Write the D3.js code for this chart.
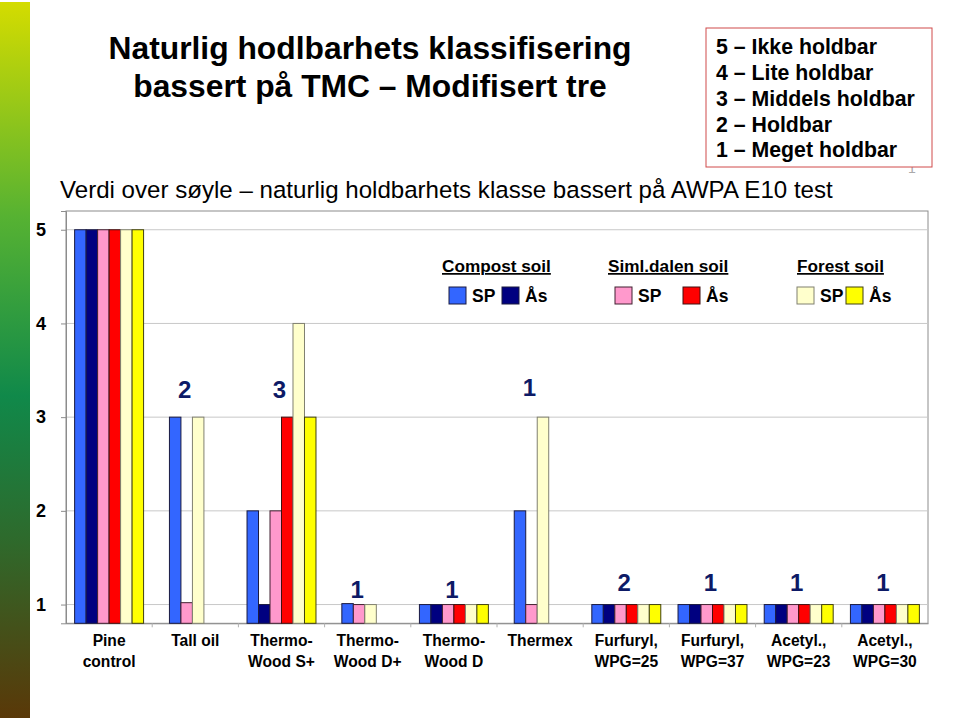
<!DOCTYPE html>
<html><head><meta charset="utf-8">
<script src="https://cdn.jsdelivr.net/npm/d3@7"></script>
<style>body{margin:0;background:#fff;} svg{display:block;font-family:Arial,"Liberation Sans",sans-serif;}</style>
</head><body>
<svg id="c" width="960" height="722"></svg>
<script>
const categories = ["Pine\ncontrol","Tall oil","Thermo-\nWood S+","Thermo-\nWood D+","Thermo-\nWood D","Thermex","Furfuryl,\nWPG=25","Furfuryl,\nWPG=37","Acetyl.,\nWPG=23","Acetyl.,\nWPG=30"];
const seriesKeys = ["compostSP","compostAs","simlSP","simlAs","forestSP","forestAs"];
const compostSP = [5, 3,    2, 1.01, 1, 2,    1, 1, 1, 1];
const compostAs = [5, null, 1, null, 1, null, 1, 1, 1, 1];
const simlSP    = [5, 1.02, 2, 1,    1, 1,    1, 1, 1, 1];
const simlAs    = [5, null, 3, null, 1, null, 1, 1, 1, 1];
const forestSP  = [5, 3,    4, 1,    1, 3,    1, 1, 1, 1];
const forestAs  = [5, null, 3, null, 1, null, 1, 1, 1, 1];
const classLabels = ["", "2", "3", "1", "1", "1", "2", "1", "1", "1"];
const classLabelLevel = [null, 3.29, 3.29, 1.16, 1.16, 3.32, 1.23, 1.23, 1.23, 1.23];
const yTicks = [1, 2, 3, 4, 5];
const groups = [{name:"Compost soil", keys:["compostSP","compostAs"]},{name:"Siml.dalen soil", keys:["simlSP","simlAs"]},{name:"Forest soil", keys:["forestSP","forestAs"]}];
const seriesLabels = {compostSP:"SP",compostAs:"Ås",simlSP:"SP",simlAs:"Ås",forestSP:"SP",forestAs:"Ås"};
const classText = ["5 – Ikke holdbar","4 – Lite holdbar","3 – Middels holdbar","2 – Holdbar","1 – Meget holdbar"];

const seriesData = {compostSP, compostAs, simlSP, simlAs, forestSP, forestAs};
const colors = {compostSP:"#3366ff",compostAs:"#000080",simlSP:"#ff99cc",simlAs:"#ff0000",forestSP:"#ffffcc",forestAs:"#ffff00"};
const strokes = {compostSP:"#1a1a40",compostAs:"#1a1a40",simlSP:"#402030",simlAs:"#401010",forestSP:"#808070",forestAs:"#404010"};

const svg = d3.select("#c");

const defs = svg.append("defs");
const lg = defs.append("linearGradient").attr("id","gb").attr("x1",0).attr("x2",0).attr("y1",0).attr("y2",1);
[[0,"#d4dc00"],[0.3,"#56b232"],[0.55,"#10894a"],[0.75,"#2e6a2c"],[1,"#5a3808"]].forEach(s=>lg.append("stop").attr("offset",s[0]).attr("stop-color",s[1]));
svg.append("rect").attr("x",0).attr("y",2).attr("width",30).attr("height",716).attr("fill","url(#gb)");

svg.append("text").attr("x",370).attr("y",48).attr("dy","0.35em").attr("text-anchor","middle").attr("font-size",31.8).attr("font-weight","bold").attr("fill","#000").text("Naturlig hodlbarhets klassifisering");
svg.append("text").attr("x",370).attr("y",86).attr("dy","0.35em").attr("text-anchor","middle").attr("font-size",31.8).attr("font-weight","bold").attr("fill","#000").text("bassert på TMC – Modifisert tre");
svg.append("text").attr("x",60).attr("y",190).attr("dy","0.35em").attr("font-size",24.1).attr("fill","#000").text("Verdi over søyle – naturlig holdbarhets klasse bassert på AWPA E10 test");

const x0 = d3.scaleBand().domain(categories).range([66,928]).paddingInner(0.2).paddingOuter(0.1);
const y = d3.scaleLinear().domain([0.8,5.2]).range([623.3,211]);
const slotW = x0.bandwidth()/seriesKeys.length;

const plot = svg.append("g");
plot.append("rect").attr("x",66).attr("y",y(5.2)).attr("width",862).attr("height",y(0.8)-y(5.2)).attr("fill","#fff").attr("stroke","#8c8c8c");
plot.selectAll("line.grid").data(yTicks).join("line").attr("class","grid")
  .attr("x1",66).attr("x2",928).attr("y1",d=>y(d)).attr("y2",d=>y(d)).attr("stroke","#c8c8c8");
const yAxis = d3.axisLeft(y).tickValues(yTicks).tickSize(5).tickFormat(d3.format("d"));
const ya = svg.append("g").attr("transform","translate(66,0)").call(yAxis);
ya.select(".domain").attr("stroke","#8c8c8c");
ya.selectAll(".tick line").attr("stroke","#8c8c8c");
ya.selectAll(".tick text").attr("x",-25).attr("text-anchor","middle").attr("font-size",18).attr("font-weight","bold").attr("fill","#000").attr("font-family","Arial,'Liberation Sans',sans-serif");

const xAxis = d3.axisBottom(x0).tickSize(0).tickFormat("");
const xa = svg.append("g").attr("transform",`translate(0,${y(0.8)})`).call(xAxis);
xa.select(".domain").attr("stroke","#8c8c8c");
svg.append("g").selectAll("line").data(categories.slice(1)).join("line")
  .attr("x1",d=>x0(d)-x0.step()*x0.paddingInner()/2).attr("x2",d=>x0(d)-x0.step()*x0.paddingInner()/2)
  .attr("y1",y(0.8)).attr("y2",y(0.8)+4).attr("stroke","#b0b0b0");
const cl = svg.append("g").selectAll("text").data(categories).join("text")
  .attr("x",d=>x0(d)+x0.bandwidth()/2).attr("y",641).attr("text-anchor","middle")
  .attr("font-size",15.6).attr("font-weight","bold").attr("fill","#000");
cl.each(function(d){
  const lines=d.split("\n");
  d3.select(this).selectAll("tspan").data(lines).join("tspan").attr("x",x0(d)+x0.bandwidth()/2).attr("dy",(l,i)=>i===0?"0.35em":"21px").text(l=>l);
});

// bars (missing series are omitted and the rest packed together, slightly left of centre)
const barData = [];
const groupCenters = [];
categories.forEach((c,i)=>{
  const present = seriesKeys.filter(k=>seriesData[k][i]!=null);
  const empty = x0.bandwidth() - present.length*slotW;
  const start = x0(c) + empty/4;
  const x1 = d3.scaleBand().domain(present).range([start, start+present.length*slotW]);
  groupCenters.push(start + present.length*slotW/2);
  present.forEach(k=>barData.push({c, k, v:seriesData[k][i], x:x1(k), w:x1.bandwidth()}));
});
svg.append("g").selectAll("rect").data(barData).join("rect")
  .attr("x",d=>d.x).attr("width",d=>d.w).attr("y",d=>y(d.v)).attr("height",d=>y(0.8)-y(d.v))
  .attr("fill",d=>colors[d.k]).attr("stroke",d=>strokes[d.k]).attr("stroke-width",1);

svg.append("g").selectAll("text").data(categories.map((c,i)=>({c,i})).filter(d=>classLabels[d.i]!==""))
  .join("text").attr("x",d=>groupCenters[d.i]-2)
  .attr("y",d=>y(classLabelLevel[d.i])).attr("dy","0.35em").attr("text-anchor","middle")
  .attr("font-size",24).attr("font-weight","bold").attr("fill","#0d1a66").text(d=>classLabels[d.i]);

const legendX = [442, 608, 797];
const swatchDX = [[7,60],[7,75],[0,49]];
groups.forEach((g,gi)=>{
  const lgG = svg.append("g").attr("transform",`translate(${legendX[gi]},0)`);
  lgG.append("text").attr("x",0).attr("y",266).attr("dy","0.35em").attr("font-size",17.2).attr("font-weight","bold").attr("text-decoration","underline").attr("fill","#000").text(g.name);
  g.keys.forEach((k,ki)=>{
    const sx = swatchDX[gi][ki];
    lgG.append("rect").attr("x",sx).attr("y",287).attr("width",17).attr("height",17).attr("fill",colors[k]).attr("stroke",strokes[k]);
    lgG.append("text").attr("x",sx+23).attr("y",296).attr("dy","0.35em").attr("font-size",17.5).attr("font-weight","bold").attr("fill","#000").text(seriesLabels[k]);
  });
});

svg.append("text").attr("x",912).attr("y",168).attr("dy","0.35em").attr("text-anchor","middle").attr("font-size",14).attr("fill","#aaa").text("1");
svg.append("rect").attr("x",706).attr("y",28).attr("width",226).attr("height",139).attr("fill","#fff").attr("stroke","#d04a4a");
svg.append("g").selectAll("text").data(classText).join("text")
  .attr("x",716).attr("y",(d,i)=>47+i*25.7).attr("dy","0.35em").attr("font-size",21.3).attr("font-weight","bold").attr("fill","#000").text(d=>d);
</script>
</body></html>
